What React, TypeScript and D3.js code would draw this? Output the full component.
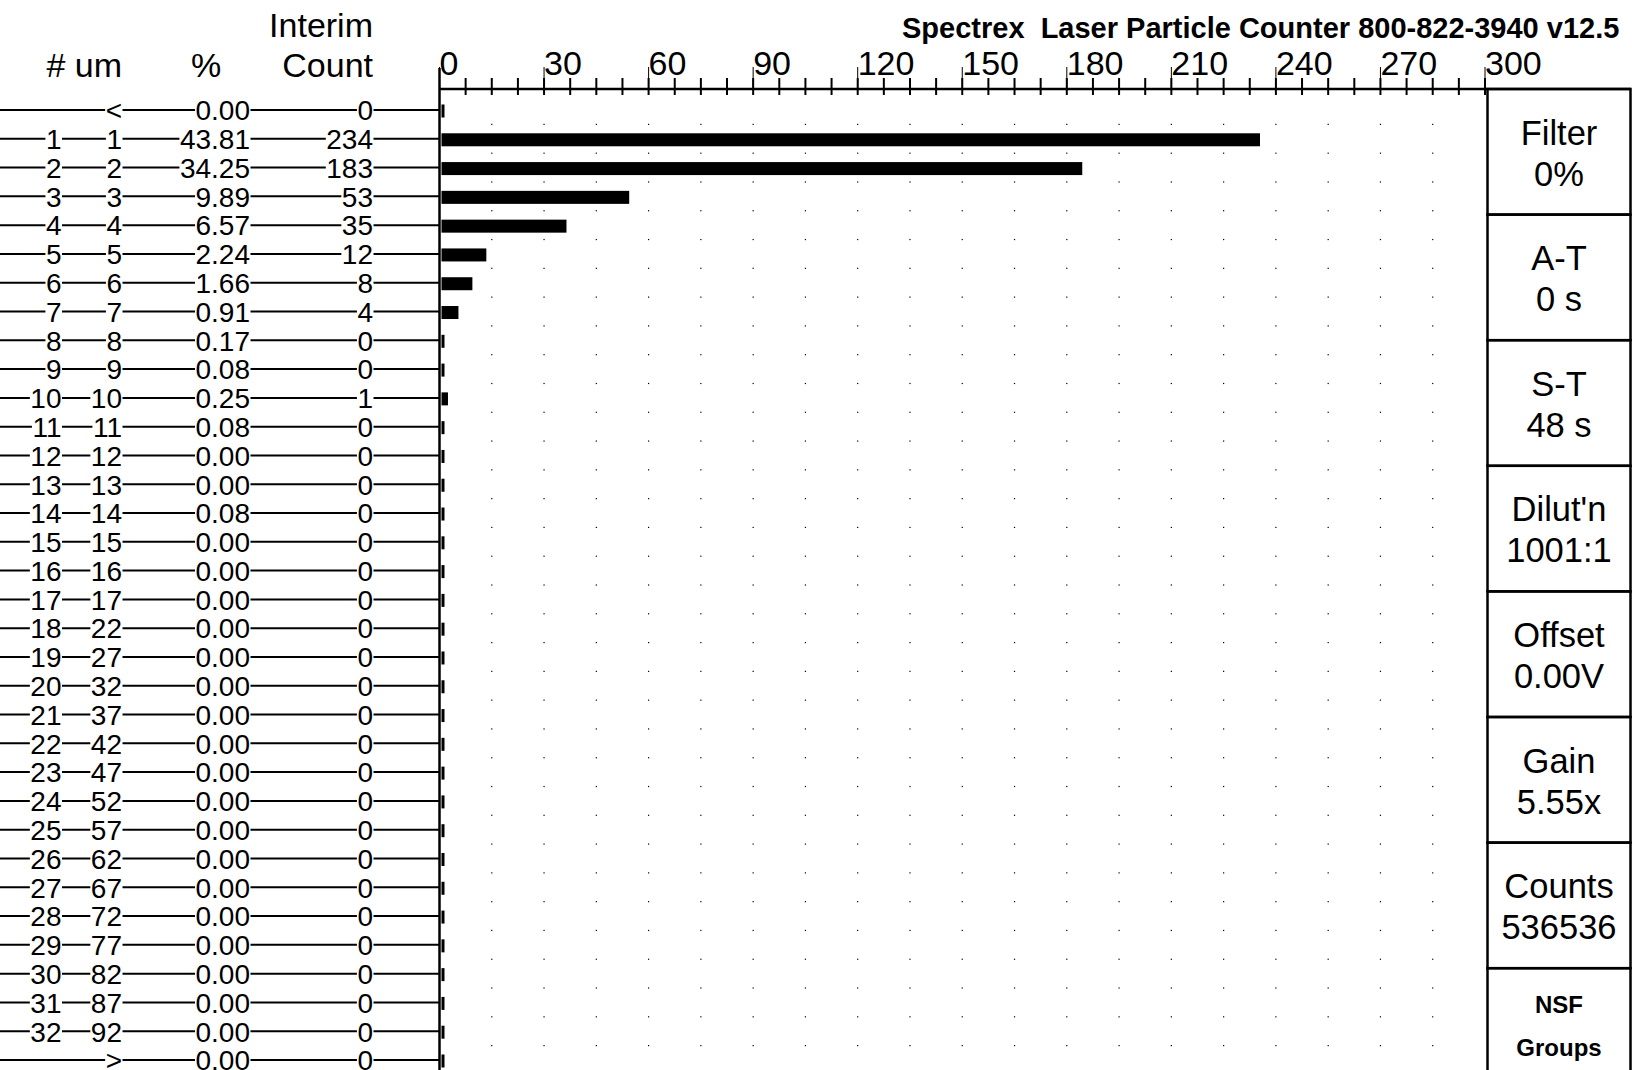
import React, { useEffect, useRef } from 'react';
import * as d3 from 'd3';

// channel table, one entry per row (first row is "<", last row is ">")
const binNumbers = ['', '1', '2', '3', '4', '5', '6', '7', '8', '9', '10', '11', '12', '13', '14', '15', '16', '17',
  '18', '19', '20', '21', '22', '23', '24', '25', '26', '27', '28', '29', '30', '31', '32', ''];
const binSizes = ['<', '1', '2', '3', '4', '5', '6', '7', '8', '9', '10', '11', '12', '13', '14', '15', '16', '17',
  '22', '27', '32', '37', '42', '47', '52', '57', '62', '67', '72', '77', '82', '87', '92', '>'];
const percents = ['0.00', '43.81', '34.25', '9.89', '6.57', '2.24', '1.66', '0.91', '0.17', '0.08', '0.25', '0.08',
  '0.00', '0.00', '0.08', '0.00', '0.00', '0.00', '0.00', '0.00', '0.00', '0.00', '0.00', '0.00', '0.00', '0.00',
  '0.00', '0.00', '0.00', '0.00', '0.00', '0.00', '0.00', '0.00'];
const counts = [0, 234, 183, 53, 35, 12, 8, 4, 0, 0, 1, 0, 0, 0, 0, 0, 0, 0, 0, 0, 0, 0, 0, 0, 0, 0, 0, 0, 0, 0, 0, 0, 0, 0];

const axisTicks = [0, 30, 60, 90, 120, 150, 180, 210, 240, 270, 300];

const panelLabels = ['Filter', 'A-T', 'S-T', "Dilut'n", 'Offset', 'Gain', 'Counts', 'NSF'];
const panelValues = ['0%', '0 s', '48 s', '1001:1', '0.00V', '5.55x', '536536', 'Groups'];

const title = 'Spectrex  Laser Particle Counter 800-822-3940 v12.5';

const W = 1632;
const H = 1070;
const FONT = "'Liberation Sans', Arial, Helvetica, sans-serif";

const App: React.FC = () => {
  const svgRef = useRef<SVGSVGElement>(null);

  useEffect(() => {
    if (!svgRef.current) return;
    const svg = d3.select(svgRef.current);
    svg.selectAll('*').remove();

    const x = d3.scaleLinear().domain([0, 300]).range([439.5, 1485]);
    const y = d3.scaleLinear().domain([0, counts.length - 1]).range([110, 1060]);
    const x0 = x(0);
    const axisY = 89;

    svg.append('rect').attr('width', W).attr('height', H).attr('fill', '#fff');

    // dotted grid between the rows
    const dotX = d3.range(15, 300, 15);
    const dotY = d3.range(0, counts.length - 1).map(i => y(i + 0.5));
    const dots = svg.append('g').attr('fill', '#000');
    dotY.forEach(dy => {
      dots.selectAll(null)
        .data(dotX)
        .enter()
        .append('rect')
        .attr('x', d => x(d) - 0.6)
        .attr('y', dy - 0.6)
        .attr('width', 1.2)
        .attr('height', 1.2);
    });

    // table rows
    const rows = svg.append('g').style('font-family', FONT).style('font-size', '28px');
    counts.forEach((_, i) => {
      const ry = y(i);
      const g = rows.append('g');
      g.append('line')
        .attr('x1', 0).attr('x2', x0)
        .attr('y1', ry).attr('y2', ry)
        .attr('stroke', '#000').attr('stroke-width', 2);

      const cells: [string, number][] = [
        [binNumbers[i], 61.5],
        [binSizes[i], 122],
        [percents[i], 250],
        [String(counts[i]), 373],
      ];
      cells.forEach(([txt, tx]) => {
        if (!txt) return;
        const bg = g.append('rect').attr('fill', '#fff');
        const t = g.append('text')
          .attr('x', tx)
          .attr('y', ry + 10.3)
          .attr('text-anchor', 'end')
          .text(txt);
        const b = (t.node() as SVGTextElement).getBBox();
        bg.attr('x', b.x - 0.5).attr('y', ry - 4)
          .attr('width', b.width + 1).attr('height', 8);
      });
    });

    // bars
    svg.append('g')
      .selectAll('rect')
      .data(counts)
      .enter()
      .append('rect')
      .attr('x', x0 + 2)
      .attr('y', (_, i) => y(i) - 5.5)
      .attr('width', d => x(d) - x0 + 3)
      .attr('height', 13)
      .attr('fill', '#000');

    // column headers
    const head = svg.append('g')
      .style('font-family', FONT)
      .style('font-size', '34px')
      .attr('fill', '#000');
    head.append('text').attr('x', 122).attr('y', 77).attr('text-anchor', 'end')
      .style('white-space', 'pre').text('# um');
    head.append('text').attr('x', 206).attr('y', 77).attr('text-anchor', 'middle').text('%');
    head.append('text').attr('x', 373).attr('y', 37).attr('text-anchor', 'end').text('Interim');
    head.append('text').attr('x', 373).attr('y', 77).attr('text-anchor', 'end').text('Count');

    // title
    svg.append('text')
      .attr('x', 902)
      .attr('y', 38)
      .style('font-family', FONT)
      .style('font-size', '29px')
      .style('font-weight', 'bold')
      .style('white-space', 'pre')
      .text(title);

    // top axis
    const axis = svg.append('g');
    axis.append('line')
      .attr('x1', x0).attr('x2', W - 1)
      .attr('y1', axisY).attr('y2', axisY)
      .attr('stroke', '#000').attr('stroke-width', 2.5);
    axis.append('line')
      .attr('x1', x0).attr('x2', x0)
      .attr('y1', 68).attr('y2', H)
      .attr('stroke', '#000').attr('stroke-width', 2.5);

    axis.selectAll('line.minor')
      .data(d3.range(1, 41).map(k => k * 7.5))
      .enter()
      .append('line')
      .attr('class', 'minor')
      .attr('x1', d => x(d)).attr('x2', d => x(d))
      .attr('y1', 78).attr('y2', 95)
      .attr('stroke', '#000').attr('stroke-width', 2);

    axis.selectAll('line.major')
      .data(axisTicks)
      .enter()
      .append('line')
      .attr('class', 'major')
      .attr('x1', d => x(d)).attr('x2', d => x(d))
      .attr('y1', 67).attr('y2', axisY)
      .attr('stroke', '#000').attr('stroke-width', 1);

    axis.selectAll('text')
      .data(axisTicks)
      .enter()
      .append('text')
      .attr('x', d => x(d))
      .attr('y', 75)
      .style('font-family', FONT)
      .style('font-size', '34px')
      .text(d => String(d));

    // right info panel
    const boxX = 1487.5;
    const boxW = 143;
    const boxH = 125.6;
    const panel = svg.append('g').style('font-family', FONT);
    panelLabels.forEach((lab, i) => {
      const top = axisY + i * boxH;
      panel.append('rect')
        .attr('x', boxX).attr('y', top)
        .attr('width', boxW).attr('height', boxH)
        .attr('fill', 'none').attr('stroke', '#000').attr('stroke-width', 2.5);
      const last = i === panelLabels.length - 1;
      panel.append('text')
        .attr('x', boxX + boxW / 2)
        .attr('y', top + (last ? 45 : 55.5))
        .attr('text-anchor', 'middle')
        .style('font-size', last ? '24px' : '34.5px')
        .style('font-weight', last ? 'bold' : 'normal')
        .text(lab);
      panel.append('text')
        .attr('x', boxX + boxW / 2)
        .attr('y', top + (last ? 88 : 96.5))
        .attr('text-anchor', 'middle')
        .style('font-size', last ? '24px' : '34.5px')
        .style('font-weight', last ? 'bold' : 'normal')
        .text(panelValues[i]);
    });
  }, []);

  return (
    <div style={{ position: 'absolute', left: 0, top: 0 }}>
      <svg ref={svgRef} width={W} height={H} style={{ display: 'block' }} />
    </div>
  );
};

export default App;
